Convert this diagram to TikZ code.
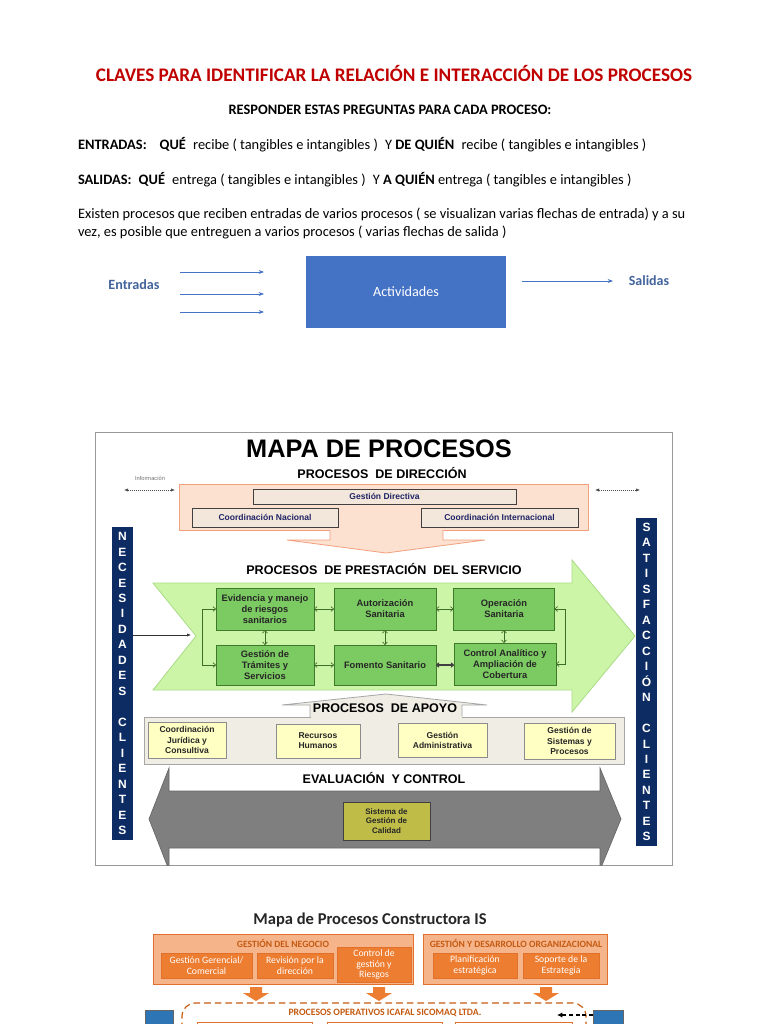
\documentclass[tikz,border=0pt]{standalone}
\usepackage{fontspec}
\setmainfont{Carlito}
\newfontfamily\arialf{Liberation Sans}
\usetikzlibrary{arrows.meta}
\newcommand\fs[2]{\fontsize{#1}{#2}\selectfont}
\def\u{0.75pt}
\definecolor{titlered}{HTML}{C00000}
\definecolor{actblue}{HTML}{4472C4}
\definecolor{labblue}{HTML}{44649C}
\definecolor{peachfill}{HTML}{FCE0D0}
\definecolor{peachline}{HTML}{F2A07E}
\definecolor{beigebox}{HTML}{F3E6DA}
\definecolor{navytext}{HTML}{1F2466}
\definecolor{navybar}{HTML}{0C2C63}
\definecolor{lgreen}{HTML}{CDF5A8}
\definecolor{lgreenline}{HTML}{A9DC86}
\definecolor{gfill}{HTML}{7CCB62}
\definecolor{gborder}{HTML}{3F7A2A}
\definecolor{gline}{HTML}{3C6E2A}
\definecolor{apoyofill}{HTML}{EFEDE4}
\definecolor{apoyoline}{HTML}{A6A6A6}
\definecolor{yellowbox}{HTML}{FFFFC4}
\definecolor{arrgray}{HTML}{7F7F7F}
\definecolor{olive}{HTML}{BFBD48}
\definecolor{orlight}{HTML}{F6B48A}
\definecolor{ordark}{HTML}{ED7D31}
\definecolor{orline}{HTML}{E0702A}
\definecolor{ortext}{HTML}{C55A11}
\definecolor{sqblue}{HTML}{2E75B6}
\tikzset{
  every node/.style={inner sep=0pt,outer sep=0pt},
  bodytxt/.style={font=\fs{10.8}{12}, anchor=west},
  flow/.style={draw=actblue, line width=0.6pt, -{Stealth[length=4pt,width=3pt]}},
  head/.style={font=\arialf\bfseries\fs{9.4}{11}},
  dirbox/.style={draw=black!75, fill=beigebox, line width=0.5pt, font=\arialf\bfseries\fs{6.4}{7.5}, text=navytext},
  gbox/.style={draw=gborder, fill=gfill, line width=0.5pt, font=\arialf\bfseries\fs{7}{8.3}, align=center, text=black!85},
  gconn/.style={draw=gline, line width=0.5pt, {To[length=2.5pt,width=4pt]}-{To[length=2.5pt,width=4pt]}},
  ybox/.style={draw=black!45, fill=yellowbox, line width=0.5pt, font=\arialf\bfseries\fs{6.4}{7.6}, align=center, text=black!85},
  bar/.style={fill=navybar, text=white, align=center, font=\arialf\bfseries\fs{9}{11.6}},
  obox/.style={fill=ordark, draw=orline, line width=0.5pt, text=white, align=center, font=\fs{7.3}{8.2}},
  oouter/.style={fill=orlight, draw=orline, line width=0.6pt},
  olab/.style={text=ortext, font=\bfseries\fs{7.2}{8}},
}
\begin{document}
\begin{tikzpicture}[x=0.75pt,y=-0.75pt]
\clip (0,0) rectangle (768,1024);
\fill[white] (0,0) rectangle (768,1024);

% ---------- top text ----------
\node[font=\bfseries\fs{14.4}{16}, text=titlered] (title) at (394,74) {CLAVES PARA IDENTIFICAR LA RELACIÓN E INTERACCIÓN DE LOS PROCESOS};
\node[font=\bfseries\fs{10.8}{12}] (resp) at (390,110) {RESPONDER ESTAS PREGUNTAS PARA CADA PROCESO:};
\node[bodytxt] (entq) at (78,145) {\textbf{ENTRADAS:}\hspace{0.9em}\textbf{QUÉ}\hspace{0.5em}recibe ( tangibles e intangibles )\hspace{0.5em}Y \textbf{DE QUIÉN}\hspace{0.5em}recibe ( tangibles e intangibles )};
\node[bodytxt] (salq) at (78,180) {\textbf{SALIDAS:}\hspace{0.5em}\textbf{QUÉ}\hspace{0.5em}entrega ( tangibles e intangibles )\hspace{0.5em}Y \textbf{A QUIÉN} entrega ( tangibles e intangibles )};
\node[bodytxt, font=\fs{10.8}{13.5}, align=left] (exist) at (78,223) {Existen procesos que reciben entradas de varios procesos ( se visualizan varias flechas de entrada) y a su\\vez, es posible que entreguen a varios procesos ( varias flechas de salida )};

% ---------- simple diagram ----------
\node[font=\bfseries\fs{10.6}{12}, text=labblue] (entl) at (134,285) {Entradas};
\coordinate (e1a) at (180,272); \coordinate (e1b) at (264,272);
\coordinate (e2a) at (180,294); \coordinate (e2b) at (264,294);
\coordinate (e3a) at (180,312); \coordinate (e3b) at (264,312);
\draw[flow] (e1a) -- (e1b);
\draw[flow] (e2a) -- (e2b);
\draw[flow] (e3a) -- (e3b);
\node[fill=actblue, minimum width=200*\u, minimum height=72*\u, text=white, font=\fs{10.6}{12}] (act) at (406,292) {Actividades};
\coordinate (s1a) at (522,281); \coordinate (s1b) at (613,281);
\draw[flow] (s1a) -- (s1b);
\node[font=\bfseries\fs{10.5}{12}, text=labblue] (sall) at (649,281) {Salidas};

% ---------- MAPA DE PROCESOS ----------
\draw[black!40, line width=0.6pt] (95,432) rectangle (672,865);
\node[font=\arialf\bfseries\fs{19}{22}] (mapa) at (379,449) {MAPA DE PROCESOS};
\node[head] (hdir) at (382,473) {PROCESOS\ \ DE DIRECCIÓN};
\node[font=\arialf\fs{4.3}{5}, text=black!55] (info) at (150,478) {Información};
\coordinate (il1) at (124,490); \coordinate (il2) at (175,490);
\coordinate (ir1) at (595,490); \coordinate (ir2) at (640,490);
\draw[black!70, densely dotted, line width=0.5pt, {Latex[length=3pt,width=2.5pt]}-{Latex[length=3pt,width=2.5pt]}] (il1) -- (il2);
\draw[black!70, densely dotted, line width=0.5pt, {Latex[length=3pt,width=2.5pt]}-{Latex[length=3pt,width=2.5pt]}] (ir1) -- (ir2);

\node[fill=peachfill, draw=peachline, line width=0.6pt, minimum width=409*\u, minimum height=46*\u] (dir) at (383.5,507) {};
\fill[peachfill] (330,529) -- (330,540) -- (287,540) -- (386,553) -- (485,540) -- (443,540) -- (443,529) -- cycle;
\draw[peachline, line width=0.6pt] (330,530) -- (330,540) -- (287,540) -- (386,553) -- (485,540) -- (443,540) -- (443,530);
\node[dirbox, minimum width=263*\u, minimum height=15*\u] (gd) at (384.5,496.5) {Gestión Directiva};
\node[dirbox, minimum width=146*\u, minimum height=19*\u] (cn) at (265,517.5) {Coordinación Nacional};
\node[dirbox, minimum width=157*\u, minimum height=19*\u] (ci) at (499.5,517.5) {Coordinación Internacional};

% side bars
\node[bar, minimum width=21*\u, minimum height=313*\u] (nec) at (122.5,683.5) {N\\E\\C\\E\\S\\I\\D\\A\\D\\E\\S\\\mbox{}\\C\\L\\I\\E\\N\\T\\E\\S};
\node[bar, minimum width=21*\u, minimum height=328*\u] (sat) at (646.5,682) {S\\A\\T\\I\\S\\F\\A\\C\\C\\I\\Ó\\N\\\mbox{}\\C\\L\\I\\E\\N\\T\\E\\S};

% green chevron
\filldraw[fill=lgreen, draw=lgreenline, line width=0.6pt] (153,583) -- (572,583) -- (572,560) -- (635,636) -- (572,712) -- (572,690) -- (153,690) -- (196,636) -- cycle;
\node[head] (hpre) at (384,569) {PROCESOS\ \ DE PRESTACIÓN\ \ DEL SERVICIO};
\coordinate (inA) at (191,635);
\draw[black!80, line width=0.5pt, -{Latex[length=3pt,width=2.5pt]}] (nec.east |- inA) -- (inA);

\node[gbox, minimum width=98*\u, minimum height=42*\u] (ev) at (265,609) {Evidencia y manejo\\de riesgos\\sanitarios};
\node[gbox, minimum width=102*\u, minimum height=42*\u] (au) at (385,609) {Autorización\\Sanitaria};
\node[gbox, minimum width=101*\u, minimum height=42*\u] (op) at (504,609) {Operación\\Sanitaria};
\node[gbox, minimum width=98*\u, minimum height=40*\u] (gt) at (265,665) {Gestión de\\Trámites y\\Servicios};
\node[gbox, minimum width=102*\u, minimum height=40*\u] (fo) at (385,665) {Fomento Sanitario};
\node[gbox, minimum width=102*\u, minimum height=42*\u] (co) at (505,664) {Control Analítico y\\Ampliación de\\Cobertura};
\draw[gconn] (ev.east) -- (au.west);
\draw[gconn] (au.east) -- (op.west);
\draw[gconn] (gt.east) -- (fo.west);
\draw[gconn, draw=black!75, line width=0.9pt] (fo.east) -- (co.west |- fo.east);
\draw[gconn] (ev.south) -- (gt.north);
\draw[gconn] (au.south) -- (fo.north);
\draw[gconn] (op.south) -- (co.north -| op.south);
\coordinate (lbx) at (202,636);
\coordinate (rbx) at (565,636);
\draw[gconn] (ev.west) -- (ev.west -| lbx) -- (gt.west -| lbx) -- (gt.west);
\draw[gconn] (op.east) -- (op.east -| rbx) -- (co.east -| rbx) -- (co.east);

% apoyo
\fill[apoyofill] (310,718) -- (310,705) -- (282,705) -- (386,694) -- (487,705) -- (462,705) -- (462,718) -- cycle;
\draw[apoyoline, line width=0.6pt] (310,717) -- (310,705) -- (282,705) -- (386,694) -- (487,705) -- (462,705) -- (462,717);
\node[draw=apoyoline, fill=apoyofill, line width=0.6pt, minimum width=480*\u, minimum height=47*\u] (apo) at (384,740.5) {};
\fill[apoyofill] (310.5,716) rectangle (461.5,718.5);
\node[head] (hapo) at (385,708.5) {PROCESOS\ \ DE APOYO};
\node[ybox, minimum width=78*\u, minimum height=36*\u] (cj) at (187,740) {Coordinación\\Jurídica y\\Consultiva};
\node[ybox, minimum width=84*\u, minimum height=34*\u] (rh) at (318,741) {Recursos\\Humanos};
\node[ybox, minimum width=89*\u, minimum height=34*\u] (ga) at (442.5,740) {Gestión\\Administrativa};
\node[ybox, minimum width=91*\u, minimum height=36*\u] (gs) at (569.5,741) {Gestión de\\Sistemas y\\Procesos};

% evaluacion
\node[head] (heva) at (384,778) {EVALUACIÓN\ \ Y CONTROL};
\begin{scope}
\clip (95,432) rectangle (672,865);
\filldraw[fill=arrgray, draw=black!60, line width=0.5pt] (149,819) -- (169,768) -- (169,791) -- (600,791) -- (600,768) -- (621,819) -- (600,870) -- (600,848) -- (169,848) -- (169,870) -- cycle;
\end{scope}
\node[draw=black!75, fill=olive, line width=0.6pt, minimum width=87*\u, minimum height=38*\u, align=center, font=\arialf\bfseries\fs{6}{7.3}, text=black!85] (sgc) at (386.5,821) {Sistema de\\Gestión de\\Calidad};

% ---------- Constructora IS ----------
\node[font=\bfseries\fs{12.4}{14}, text=black!85] (ctit) at (370,920) {Mapa de Procesos Constructora IS};
\node[oouter, minimum width=260*\u, minimum height=50*\u] (gn) at (283,959) {};
\node[olab] (gnl) at (283,943) {GESTIÓN DEL NEGOCIO};
\node[obox, minimum width=91*\u, minimum height=25*\u] (gg) at (206.5,965.5) {Gestión Gerencial/\\Comercial};
\node[obox, minimum width=76*\u, minimum height=25*\u] (rd) at (295,965.5) {Revisión por la\\dirección};
\node[obox, minimum width=74*\u, minimum height=35*\u] (cg) at (374,964.5) {Control de\\gestión y\\Riesgos};
\node[oouter, minimum width=184*\u, minimum height=50*\u] (gdo) at (515,959) {};
\node[olab] (gdol) at (516,943) {GESTIÓN Y DESARROLLO ORGANIZACIONAL};
\node[obox, minimum width=84*\u, minimum height=25*\u] (pe) at (475,965.5) {Planificación\\estratégica};
\node[obox, minimum width=76*\u, minimum height=25*\u] (se) at (561,965.5) {Soporte de la\\Estrategia};
% down arrows
\foreach \xx/\nm in {256/da1,379/da2,546/da3}{
  \fill[ordark] (\xx-6,987) -- (\xx+6,987) -- (\xx+6,993) -- (\xx+13,993) -- (\xx,1001) -- (\xx-13,993) -- (\xx-6,993) -- cycle;
}
\draw[ortext, dashed, dash pattern=on 5pt off 3pt, line width=0.9pt, rounded corners=10pt] (182,1040) -- (182,1003) -- (586,1003) -- (586,1040);
\node[olab, font=\bfseries\fs{7.3}{8}] (pop) at (385,1013) {PROCESOS OPERATIVOS ICAFAL SICOMAQ LTDA.};
\draw[orline, line width=0.6pt] (197,1040) -- (197,1022) -- (312,1022) -- (312,1040);
\draw[orline, line width=0.6pt] (327,1040) -- (327,1022) -- (442,1022) -- (442,1040);
\draw[orline, line width=0.6pt] (455,1040) -- (455,1022) -- (572,1022) -- (572,1040);
\node[fill=sqblue, draw=black!60, line width=0.5pt, minimum width=28*\u, minimum height=30*\u] (lsq) at (159,1025) {};
\node[fill=sqblue, draw=black!60, line width=0.5pt, minimum width=30*\u, minimum height=30*\u] (rsq) at (608,1025) {};
\coordinate (darr) at (557,1015);
\draw[black, dashed, dash pattern=on 3pt off 2pt, line width=1pt, -{Latex[length=4pt,width=4pt]}] (rsq.west |- darr) -- (darr);
\end{tikzpicture}
\end{document}
